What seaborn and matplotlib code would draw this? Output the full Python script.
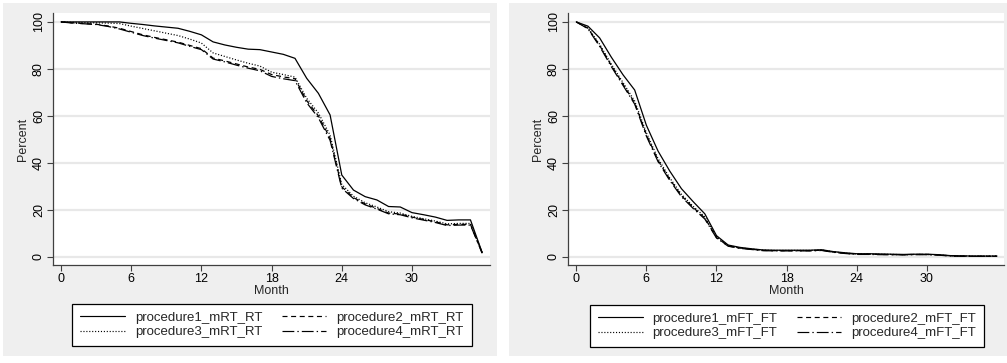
import matplotlib
matplotlib.use("Agg")
import matplotlib.pyplot as plt
from matplotlib.patches import Rectangle
from matplotlib.lines import Line2D
import seaborn as sns
import pandas as pd

# Survival-style percentage curves by month
months = list(range(37))

rt_p1 = [100, 100, 100, 100, 100, 100, 99.4, 98.9, 98.3, 97.8, 97.3, 96.0, 94.5, 91.5, 90.2, 89.2,
         88.4, 88.2, 87.2, 86.2, 84.5, 76.0, 69.6, 60.4, 34.8, 28.4, 25.6, 24.2, 21.4, 21.2, 18.8,
         17.9, 16.9, 15.5, 15.7, 15.7, 1.8]
rt_p2 = [100, 99.6, 99.3, 99.0, 98.3, 97.3, 95.9, 94.5, 93.4, 92.4, 91.4, 90.0, 88.6, 84.6, 83.4, 82.1,
         80.8, 79.8, 77.6, 76.6, 75.8, 66.5, 60.0, 50.5, 29.8, 25.2, 22.5, 20.6, 18.6, 18.2, 16.9,
         15.9, 14.9, 13.6, 13.8, 13.8, 1.6]
rt_p3 = [100, 99.8, 99.7, 99.6, 99.5, 99.3, 98.2, 97.2, 96.2, 95.2, 94.2, 92.7, 91.0, 86.8, 85.3, 83.8,
         82.4, 81.2, 78.6, 77.6, 76.5, 67.5, 61.2, 51.8, 30.8, 25.8, 23.0, 21.2, 19.2, 18.6, 17.2,
         16.2, 15.2, 14.0, 14.2, 14.2, 1.8]
rt_p4 = [100, 99.5, 99.2, 98.9, 98.1, 97.0, 95.6, 94.2, 93.1, 92.1, 91.1, 89.6, 88.2, 84.2, 83.0, 81.6,
         80.3, 79.2, 76.8, 75.8, 75.0, 65.6, 59.2, 49.6, 29.2, 24.8, 22.1, 20.3, 18.3, 17.9, 16.6,
         15.6, 14.6, 13.3, 13.5, 13.5, 1.5]

ft_p1 = [100, 98.2, 93.2, 85.0, 77.5, 71.0, 56.0, 45.0, 36.5, 29.0, 23.5, 18.3, 9.0, 5.0, 4.0, 3.4,
         2.9, 2.8, 2.8, 2.8, 2.8, 3.0, 2.2, 1.7, 1.3, 1.3, 1.2, 1.1, 1.0, 1.1, 1.1, 0.9, 0.5, 0.4,
         0.3, 0.3, 0.3]
ft_p2 = [100, 97.3, 90.0, 81.5, 73.5, 65.5, 52.0, 41.0, 33.0, 26.0, 21.0, 16.5, 8.2, 4.6, 3.7, 3.2,
         2.7, 2.6, 2.6, 2.6, 2.6, 2.8, 2.0, 1.5, 1.1, 1.1, 1.0, 0.9, 0.9, 1.0, 1.0, 0.8, 0.4, 0.3,
         0.2, 0.2, 0.2]
ft_p3 = [100, 97.5, 90.5, 82.0, 74.2, 66.3, 52.8, 41.8, 33.6, 26.6, 21.5, 17.0, 8.5, 4.8, 3.8, 3.3,
         2.8, 2.7, 2.7, 2.7, 2.7, 2.9, 2.1, 1.6, 1.2, 1.2, 1.1, 1.0, 0.9, 1.0, 1.0, 0.8, 0.4, 0.3,
         0.3, 0.3, 0.3]
ft_p4 = [100, 97.1, 89.6, 81.0, 73.0, 65.0, 51.4, 40.5, 32.5, 25.6, 20.6, 16.1, 8.0, 4.5, 3.6, 3.1,
         2.6, 2.5, 2.5, 2.5, 2.5, 2.7, 1.9, 1.4, 1.0, 1.0, 0.9, 0.9, 0.8, 0.9, 0.9, 0.7, 0.3, 0.2,
         0.2, 0.2, 0.2]

rt_names = ["procedure1_mRT_RT", "procedure2_mRT_RT", "procedure3_mRT_RT", "procedure4_mRT_RT"]
ft_names = ["procedure1_mFT_FT", "procedure2_mFT_FT", "procedure3_mFT_FT", "procedure4_mFT_FT"]
x_ticks = [0, 6, 12, 18, 24, 30]
y_ticks = [0, 20, 40, 60, 80, 100]

sns.set_theme(style="white")
plt.rcParams["font.family"] = ["Liberation Sans", "DejaVu Sans"]
plt.rcParams["lines.scale_dashes"] = False

W, H = 1007, 363
fig = plt.figure(figsize=(W / 100, H / 100), dpi=100)
fig.patch.set_facecolor("white")

BG = "#efefef"
styles = ["-", (0, (3.6, 2.6)), (0, (0.8, 1.3)), (0, (8.5, 2.2, 1.0, 2.2))]


def px_axes(left, right, top, bottom):
    return fig.add_axes([left / W, 1 - bottom / H, (right - left) / W, (bottom - top) / H])


def panel(bg_box, ax_box, xlim, series, names, legend_center):
    bx0, by0, bx1, by1 = bg_box
    bg = Rectangle((bx0 / W, 1 - by1 / H), (bx1 - bx0) / W, (by1 - by0) / H,
                   transform=fig.transFigure, facecolor=BG, edgecolor="none", zorder=-10)
    fig.add_artist(bg)
    ax = px_axes(*ax_box)
    ax.set_facecolor("white")
    df = pd.DataFrame({"Month": months * 4,
                       "Percent": sum(series, []),
                       "series": sum([[n] * len(months) for n in names], [])})
    for name, ls in zip(names, styles):
        sns.lineplot(data=df[df["series"] == name], x="Month", y="Percent", ax=ax,
                     color="black", linewidth=0.9, linestyle=ls, legend=False)
    ax.set_xlim(*xlim)
    ax.set_ylim(-3.5, 103.8)
    ax.set_xticks(x_ticks)
    ax.set_yticks(y_ticks)
    ax.grid(False)
    for yv in y_ticks:
        ax.axhline(yv, color="#e8e8e8", linewidth=1.6, zorder=0)
    for s in ["top", "right"]:
        ax.spines[s].set_visible(False)
    for s in ["left", "bottom"]:
        ax.spines[s].set_color("#404040")
        ax.spines[s].set_linewidth(0.9)
    ax.tick_params(axis="both", which="major", direction="out", length=4.5, width=0.8,
                   color="#404040", labelsize=9, labelcolor="black", pad=1.5,
                   bottom=True, left=True)
    for lab in ax.get_yticklabels():
        lab.set_rotation(90)
        lab.set_va("center")
    ax.set_xlabel("Month", fontsize=9, labelpad=0)
    ax.set_ylabel("Percent", fontsize=9, labelpad=3)

    handles = [Line2D([], [], color="black", linewidth=0.85, linestyle=ls) for ls in styles]
    order = [0, 2, 1, 3]
    leg = ax.legend([handles[i] for i in order], [names[i] for i in order], ncol=2,
                    loc="center", bbox_to_anchor=(legend_center[0] / W, 1 - legend_center[1] / H),
                    bbox_transform=fig.transFigure, frameon=True, fancybox=False,
                    edgecolor="black", facecolor="white", framealpha=1, fontsize=9.5,
                    handlelength=3.4, handletextpad=0.75, columnspacing=1.45,
                    borderpad=0.6, labelspacing=0.18, borderaxespad=0)
    leg.get_frame().set_linewidth(0.9)
    return ax


panel((3, 3, 497, 356), (53.3, 490, 13, 265), (-0.66, 36.67),
      [rt_p1, rt_p2, rt_p3, rt_p4], rt_names, (272, 325))
panel((509, 3, 1007, 356), (568.3, 1004, 13, 265), (-0.68, 36.6),
      [ft_p1, ft_p2, ft_p3, ft_p4], ft_names, (787, 326))

fig.savefig("out.png", dpi=100, facecolor="white")
